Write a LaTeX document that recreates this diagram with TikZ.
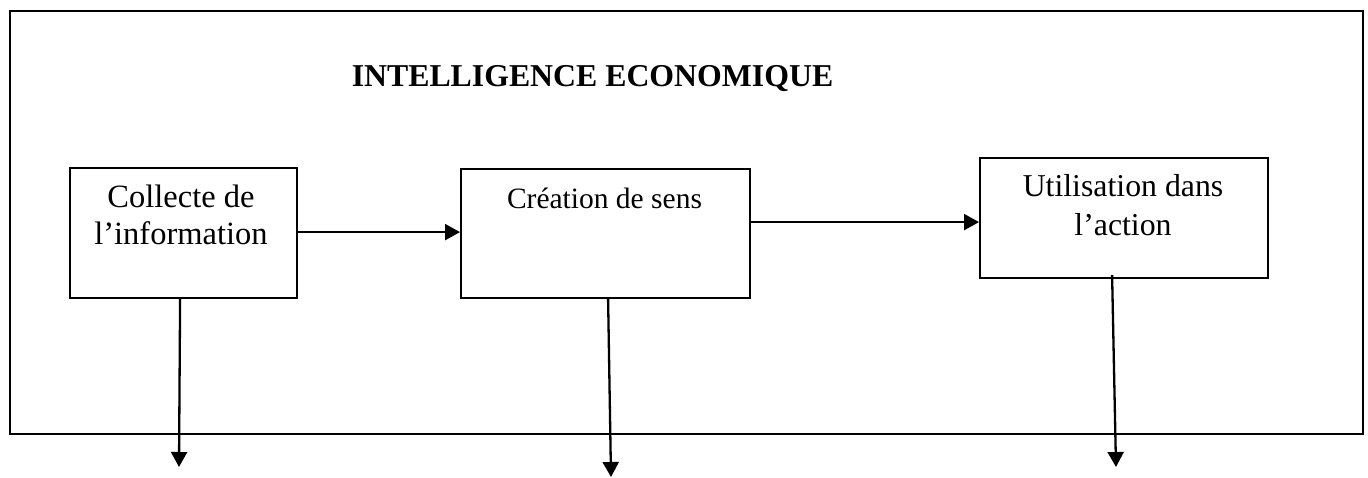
\documentclass[tikz,border=0pt]{standalone}
\usepackage{fontspec}
\setmainfont{Liberation Serif}
\usetikzlibrary{arrows.meta}
\begin{document}
\begin{tikzpicture}[x=1pt,y=-1pt,
  frame/.style={draw=black,line width=2.2pt},
  stagebox/.style={draw=black,line width=2.2pt,rectangle,inner sep=0pt},
  boxtext/.style={anchor=base,inner sep=0pt},
  arr/.style={draw=black,line width=2.3pt,-{Triangle[length=15pt,width=16pt]}}]
\useasboundingbox (0,0) rectangle (1368,478);
\fill[white] (0,0) rectangle (1368,478);
% outer frame
\node[frame,rectangle,inner sep=0pt,minimum width=1353pt,minimum height=423pt,anchor=north west] (outer) at (9,10) {};
\node[anchor=base,inner sep=0pt,font=\fontsize{31.8}{36}\bfseries\selectfont] (title) at (592.5,87) {INTELLIGENCE ECONOMIQUE};
% the three stages
\node[stagebox,minimum width=227pt,minimum height=130pt,anchor=north west] (b1) at (69,167) {};
\node[stagebox,minimum width=289pt,minimum height=129pt,anchor=north west] (b2) at (460,168) {};
\node[stagebox,minimum width=288pt,minimum height=120pt,anchor=north west] (b3) at (979,157) {};
\node[boxtext,font=\fontsize{32.5}{36}\selectfont] (t1a) at (181,208) {Collecte de};
\node[boxtext,font=\fontsize{32.5}{36}\selectfont] (t1b) at (181,245) {l’information};
\node[boxtext,font=\fontsize{29.5}{36}\selectfont] (t2) at (604.5,209) {Création de sens};
\node[boxtext,font=\fontsize{31.8}{36}\selectfont] (t3a) at (1123,197) {Utilisation dans};
\node[boxtext,font=\fontsize{31.8}{36}\selectfont] (t3b) at (1123,236) {l’action};
% flow between stages
\draw[arr] ([yshift=1pt]b1.east) -- ([yshift=1.5pt]b2.west);
\draw[arr] ([yshift=11.5pt]b2.east) -- ([yshift=-4pt]b3.west);
% outputs
\coordinate (o1) at (179,467);
\coordinate (o2) at (611,477);
\coordinate (o3) at (1116,467);
\draw[arr] ([xshift=-3.5pt]b1.south) -- (o1);
\draw[arr] ([xshift=2.5pt]b2.south) -- (o2);
\draw[arr] ([xshift=-12pt,yshift=4pt]b3.south) -- (o3);
\end{tikzpicture}
\end{document}
